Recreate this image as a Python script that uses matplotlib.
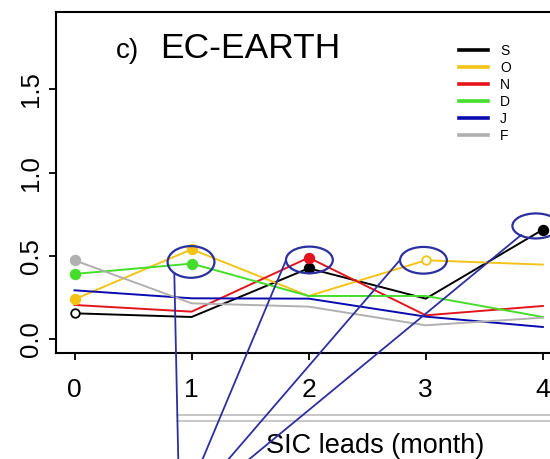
import matplotlib
matplotlib.use("Agg")
import matplotlib.pyplot as plt
from matplotlib.patches import Ellipse, ConnectionPatch
from matplotlib.lines import Line2D

plt.rcParams['font.family'] = ['Liberation Sans', 'DejaVu Sans']

# ---- data ----
leads = [0, 1, 2, 3, 4]
series_names = ["S", "O", "N", "D", "J", "F"]
series_colors = ["#000000", "#F3C316", "#E3141C", "#44DD2A", "#0A0AB0", "#B0B0B0"]
vals_S = [0.156, 0.134, 0.426, 0.244, 0.658]
vals_O = [0.240, 0.540, 0.260, 0.474, 0.448]
vals_N = [0.206, 0.166, 0.490, 0.144, 0.200]
vals_D = [0.392, 0.454, 0.260, 0.260, 0.134]
vals_J = [0.294, 0.246, 0.244, 0.136, 0.074]
vals_F = [0.474, 0.216, 0.196, 0.084, 0.130]
# marker kind per point: 'f' filled, 'o' open, '' none
mk_S = ['o', '', 'f', '', 'f']
mk_O = ['f', 'f', '', 'o', '']
mk_N = ['', '', 'f', '', '']
mk_D = ['f', 'f', '', '', '']
mk_J = ['', '', '', '', '']
mk_F = ['f', '', '', '', '']
series_vals = [vals_S, vals_O, vals_N, vals_D, vals_J, vals_F]
series_marks = [mk_S, mk_O, mk_N, mk_D, mk_J, mk_F]

xticks = [0, 1, 2, 3, 4]
yticks = [0.0, 0.5, 1.0, 1.5]
ytick_labels = ["0.0", "0.5", "1.0", "1.5"]
title_panel = "c)"
title_model = "EC-EARTH"
xlabel = "SIC leads (month)"

# highlighted points (lead, value) of ellipses
highlight_x = [0.995, 2.006, 2.98, 3.94]
highlight_y = [0.464, 0.476, 0.474, 0.680]
highlight_h = [0.19, 0.16, 0.16, 0.15]

W, H = 550, 459
fig = plt.figure(figsize=(W / 100, H / 100), dpi=100)
ax = fig.add_axes([55.8 / W, 1 - 352.5 / H, (561.6 - 55.8) / W, (352.5 - 12) / H])
ax.set_xlim(-0.16, 4.16)
ax.set_ylim(-0.079, 1.963)

for name, col, vals, mks in zip(series_names, series_colors, series_vals, series_marks):
    ax.plot(leads, vals, color=col, lw=1.4, label=name, zorder=2)
    for x, v, m in zip(leads, vals, mks):
        if m == 'f':
            ax.plot([x], [v], 'o', color=col, ms=7.2, mec=col, zorder=3)
        elif m == 'o':
            ax.plot([x], [v], 'o', mfc='white', mec=col, mew=1.3, ms=6.2, zorder=3)

for s in ['left', 'bottom', 'top', 'right']:
    ax.spines[s].set_linewidth(1.5)

ax.set_xticks(xticks)
ax.set_yticks(yticks)
ax.set_yticklabels(ytick_labels, rotation=90, va='center')
ax.tick_params(axis='x', length=4.7, width=1.3, pad=13.5, labelsize=19)
ax.tick_params(axis='y', length=4.7, width=1.3, pad=4.5, labelsize=18.5)

# legend
handles = [Line2D([0], [0], color=c, lw=2.6) for c in series_colors]
fig.legend(handles, series_names, loc='upper left',
           bbox_to_anchor=(459 / W, 1 - 44 / H), frameon=False, fontsize=10,
           handlelength=2.1, handletextpad=0.85, labelspacing=0.22,
           borderpad=0, borderaxespad=0)

# title texts
fig.text(116 / W, 1 - 58.3 / H, title_panel, fontsize=20, va='baseline', ha='left')
fig.text(160 / W, 1 - 58.3 / H, title_model, fontsize=25.5, va='baseline', ha='left')

# x label
fig.text(375 / W, 1 - 453.3 / H, xlabel, fontsize=19.5, va='baseline', ha='center')

# annotation ellipses
ann_col = '#2B2FA0'
for x, y, h in zip(highlight_x, highlight_y, highlight_h):
    ax.add_patch(Ellipse((x, y), 0.40, h, fill=False, ec=ann_col, lw=1.6,
                         zorder=4, clip_on=False))

# connecting lines from ellipses down to bottom of figure
line_start_x = [0.852, 1.807, 2.78, 3.815]
line_start_y = [0.400, 0.476, 0.476, 0.626]
line_end_fx = [178.3 / W, 201.7 / W, 226.7 / W, 246.7 / W]
for sx, sy, ex in zip(line_start_x, line_start_y, line_end_fx):
    cp = ConnectionPatch(xyA=(sx, sy), coordsA=ax.transData,
                         xyB=(ex, -0.005), coordsB=fig.transFigure,
                         color=ann_col, lw=1.3, zorder=5)
    fig.add_artist(cp)

# gray double lines (frame of panel below)
for yy in [1 - 415 / H, 1 - 420.7 / H]:
    fig.add_artist(Line2D([176.7 / W, 1.0], [yy, yy], color='#BDBDBD', lw=1.2,
                          transform=fig.transFigure))

fig.savefig("out.png", dpi=100)
